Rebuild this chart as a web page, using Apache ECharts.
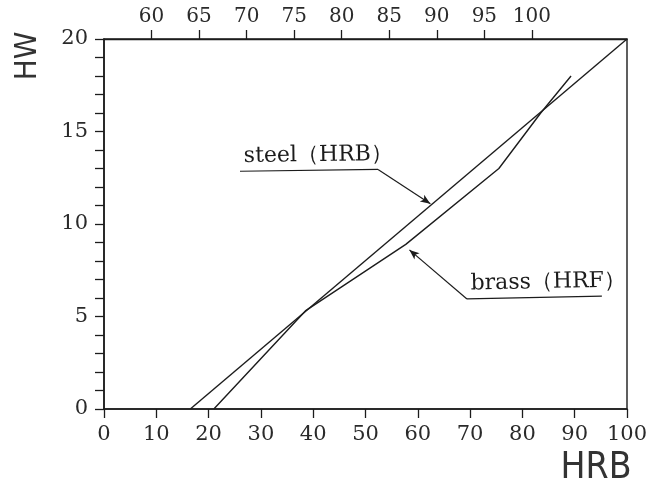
<!DOCTYPE html>
<html>
<head>
<meta charset="utf-8">
<script src="https://cdn.jsdelivr.net/npm/echarts@6/dist/echarts.min.js"></script>
<style>
  html, body { margin: 0; padding: 0; background: #fff; }
  #chart { width: 654px; height: 486px; }
</style>
</head>
<body>
<div id="chart"></div>
<script>
// readings from the picture, in bottom-axis (HRB) / left-axis (HW) units
const steelPoints = [[16.5, 0], [100, 20]];
const brassPoints = [[21.0, 0], [38.5, 5.3], [57.7, 8.9], [75.5, 13.0], [83.5, 16.0], [89.3, 18.0]];

// leader lines of the two notes: underline start, underline end / elbow, arrow tip
const steelNote = [[26.0, 12.85], [52.4, 12.95], [62.4, 11.1]];
const brassNote = [[69.4, 5.95], [95.2, 6.1], [58.4, 8.6]];

const yLabels = [0, 5, 10, 15, 20];
const topLabels = [60, 65, 70, 75, 80, 85, 90, 95, 100];

const ink = '#1c1c1c';
const serif = "'DejaVu Serif', 'Liberation Serif', serif";

const chart = echarts.init(document.getElementById('chart'));

function noteLines(pts, text, elbowIdx) {
  // underline with the label on it, then the arrow from the elbow
  return {
    silent: true,
    symbolSize: [0, 9],
    lineStyle: { color: ink, width: 1.2, type: 'solid' },
    label: { show: false },
    emphasis: { disabled: true },
    data: [
      [
        { coord: pts[0], symbol: 'none',
          label: { show: true, position: 'insideStartTop', formatter: text, distance: 4,
                   color: ink, fontFamily: serif, fontSize: 22 } },
        { coord: pts[1], symbol: 'none' }
      ],
      [
        { coord: pts[elbowIdx], symbol: 'none' },
        { coord: pts[2], symbol: 'arrow', symbolSize: [6, 10] }
      ]
    ]
  };
}

const option = {
  backgroundColor: '#fff',
  animation: false,
  grid: { left: 104, right: 27, top: 39, bottom: 77, show: true, borderColor: ink, borderWidth: 1.4 },
  xAxis: [
    {
      type: 'value', position: 'bottom', min: 0, max: 100, interval: 10,
      axisLine: { show: true, lineStyle: { color: ink, width: 1.6 } },
      axisTick: { show: true, length: 9, lineStyle: { color: ink, width: 1.3 } },
      axisLabel: { color: '#2a2a2a', fontFamily: serif, fontSize: 21, margin: 15 },
      splitLine: { show: false }
    },
    {
      type: 'value', position: 'top', min: 55, max: 110,
      axisLine: { show: true, lineStyle: { color: ink, width: 1.4 } },
      axisTick: { show: true, length: 9, customValues: topLabels, lineStyle: { color: ink, width: 1.3 } },
      axisLabel: { color: '#2a2a2a', fontFamily: serif, fontSize: 20, margin: 12, customValues: topLabels },
      splitLine: { show: false }
    }
  ],
  yAxis: {
    type: 'value', min: 0, max: 20, interval: 1,
    axisLine: { show: true, lineStyle: { color: ink, width: 1.6 } },
    axisTick: { show: true, length: 9, lineStyle: { color: ink, width: 1.3 } },
    axisLabel: { color: '#2a2a2a', fontFamily: serif, fontSize: 21, margin: 16, customValues: yLabels },
    splitLine: { show: false }
  },
  graphic: [
    {
      type: 'text', x: 28, y: 56, rotation: Math.PI / 2,
      style: { text: 'HW', fill: '#333', fontSize: 31,
               fontFamily: "'Liberation Sans Narrow', 'DejaVu Sans Condensed', 'Liberation Sans', sans-serif",
               align: 'center', verticalAlign: 'middle' }
    },
    {
      type: 'text', x: 596, y: 468,
      style: { text: 'HRB', fill: '#333', fontSize: 37,
               fontFamily: "'Liberation Sans Narrow', 'DejaVu Sans Condensed', 'Liberation Sans', sans-serif",
               align: 'center', verticalAlign: 'middle' }
    }
  ],
  series: [
    {
      name: 'steel (HRB)', type: 'line', data: steelPoints, showSymbol: false, silent: true,
      lineStyle: { color: ink, width: 1.4 },
      markLine: noteLines(steelNote, 'steel（HRB）', 1)
    },
    {
      name: 'brass (HRF)', type: 'line', data: brassPoints, showSymbol: false, silent: true,
      lineStyle: { color: ink, width: 1.4 },
      markLine: noteLines(brassNote, 'brass（HRF）', 0)
    }
  ]
};

chart.setOption(option);
</script>
</body>
</html>
